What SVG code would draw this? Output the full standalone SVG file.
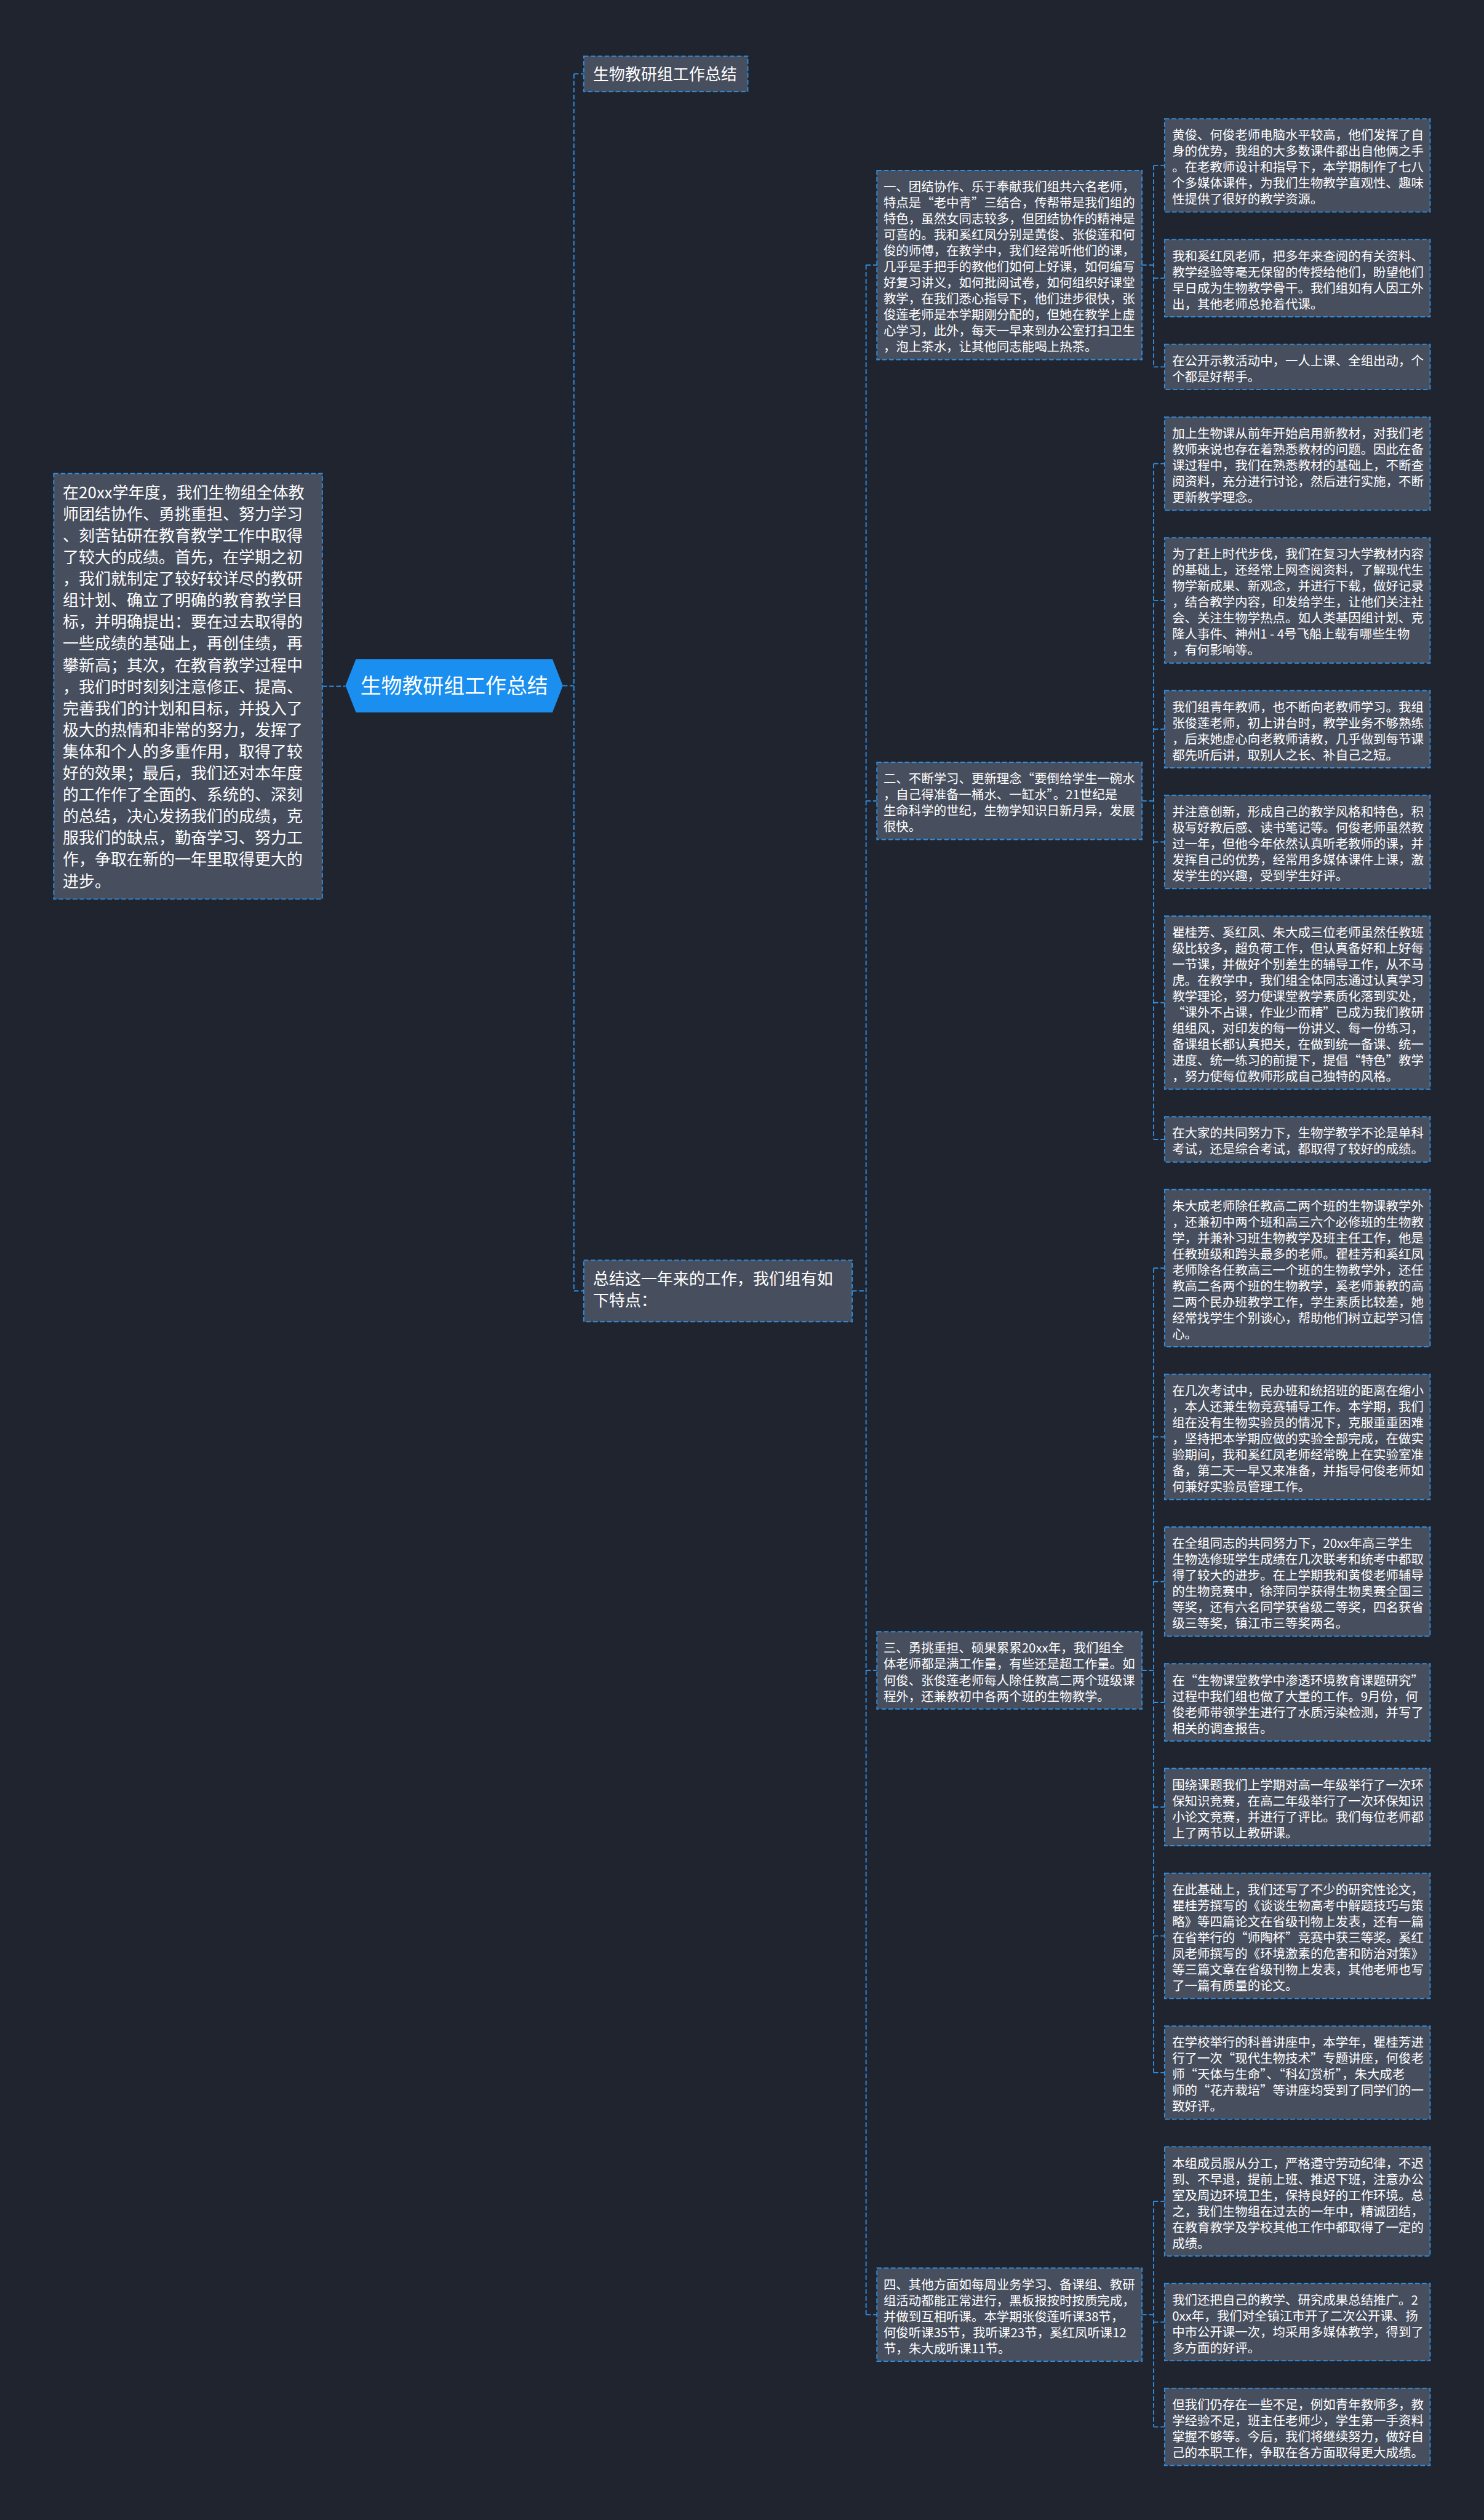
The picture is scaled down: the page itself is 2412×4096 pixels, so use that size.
<svg xmlns="http://www.w3.org/2000/svg" width="2412" height="4096" viewBox="0 0 2412 4096">
<style>
.nd rect{fill:#474e5e;stroke:#2f8ee0;stroke-width:2;stroke-dasharray:8 4}
.t{font-family:"Noto Sans CJK SC","Noto Sans",sans-serif;fill:#ffffff}
.s{font-size:21.7px}
.l{font-size:27.6px}
.c{font-size:36px}
#connectors path{stroke:#2f8ee0;stroke-width:2;stroke-dasharray:8 4;fill:none}
</style>
<rect x="0" y="0" width="2412" height="4096" fill="#20242f"/>
<g transform="scale(0.9422)">
<g id="connectors">
<path d="M556,1184H596"/>
<path d="M971,1183H990M990,127.5V2227M990,127.5H1007M990,2227H1007"/>
<path d="M1470,2227H1494M1494,457.2V3993M1494,457.2H1512.7M1494,1381.6H1512.7M1494,2881.6H1512.7M1494,3993H1512.7"/>
<path d="M1970,457.2H1990M1990,285.4V633M1990,285.4H2009M1990,479.9H2009M1990,633H2009"/>
<path d="M1970,1381.6H1990M1990,799.9V1965.6M1990,799.9H2009M1990,1035.8H2009M1990,1257.9H2009M1990,1452.4H2009M1990,1729.7H2009M1990,1965.6H2009"/>
<path d="M1970,2881.6H1990M1990,2187.7V3575.5M1990,2187.7H2009M1990,2478.8H2009M1990,2728.5H2009M1990,2936.8H2009M1990,3117.5H2009M1990,3339.6H2009M1990,3575.5H2009"/>
<path d="M1970,3993H1990M1990,3797.6V4186.6M1990,3797.6H2009M1990,4005.9H2009M1990,4186.6H2009"/>
</g>

<g id="n-left" class="nd"><rect x="92.7" y="817" width="463.3" height="734"/>
<text class="t l" x="108.3" y="859.5"><tspan x="108.3" dy="0">在20xx学年度，我们生物组全体教</tspan><tspan x="108.3" dy="37.25">师团结协作、勇挑重担、努力学习</tspan><tspan x="108.3" dy="37.25">、刻苦钻研在教育教学工作中取得</tspan><tspan x="108.3" dy="37.25">了较大的成绩。首先，在学期之初</tspan><tspan x="108.3" dy="37.25">，我们就制定了较好较详尽的教研</tspan><tspan x="108.3" dy="37.25">组计划、确立了明确的教育教学目</tspan><tspan x="108.3" dy="37.25">标，并明确提出：要在过去取得的</tspan><tspan x="108.3" dy="37.25">一些成绩的基础上，再创佳绩，再</tspan><tspan x="108.3" dy="37.25">攀新高；其次，在教育教学过程中</tspan><tspan x="108.3" dy="37.25">，我们时时刻刻注意修正、提高、</tspan><tspan x="108.3" dy="37.25">完善我们的计划和目标，并投入了</tspan><tspan x="108.3" dy="37.25">极大的热情和非常的努力，发挥了</tspan><tspan x="108.3" dy="37.25">集体和个人的多重作用，取得了较</tspan><tspan x="108.3" dy="37.25">好的效果；最后，我们还对本年度</tspan><tspan x="108.3" dy="37.25">的工作作了全面的、系统的、深刻</tspan><tspan x="108.3" dy="37.25">的总结，决心发扬我们的成绩，克</tspan><tspan x="108.3" dy="37.25">服我们的缺点，勤奋学习、努力工</tspan><tspan x="108.3" dy="37.25">作，争取在新的一年里取得更大的</tspan><tspan x="108.3" dy="37.25">进步。</tspan></text></g>

<g id="n-root"><polygon points="596,1183 614,1137 953,1137 971,1183 953,1229 614,1229" fill="#1a8ff0"/>
<text class="t c" x="783.5" y="1196" text-anchor="middle">生物教研组工作总结</text></g>

<g id="n-top" class="nd"><rect x="1007" y="97" width="283" height="61"/>
<text class="t l" x="1023" y="138">生物教研组工作总结</text></g>

<g id="n-sum" class="nd"><rect x="1007" y="2174" width="463" height="106"/>
<text class="t l" x="1023" y="2216.5"><tspan x="1023" dy="0">总结这一年来的工作，我们组有如</tspan><tspan x="1023" dy="37.25">下特点：</tspan></text></g>

<g id="b1" class="nd"><rect x="1512.7" y="294" width="457.3" height="326.4"/>
<text class="t s" x="1524" y="330.3"><tspan x="1524" dy="0">一、团结协作、乐于奉献我们组共六名老师，</tspan><tspan x="1524" dy="27.6">特点是“老中青”三结合，传帮带是我们组的</tspan><tspan x="1524" dy="27.6">特色，虽然女同志较多，但团结协作的精神是</tspan><tspan x="1524" dy="27.6">可喜的。我和奚红凤分别是黄俊、张俊莲和何</tspan><tspan x="1524" dy="27.6">俊的师傅，在教学中，我们经常听他们的课，</tspan><tspan x="1524" dy="27.6">几乎是手把手的教他们如何上好课，如何编写</tspan><tspan x="1524" dy="27.6">好复习讲义，如何批阅试卷，如何组织好课堂</tspan><tspan x="1524" dy="27.6">教学，在我们悉心指导下，他们进步很快，张</tspan><tspan x="1524" dy="27.6">俊莲老师是本学期刚分配的，但她在教学上虚</tspan><tspan x="1524" dy="27.6">心学习，此外，每天一早来到办公室打扫卫生</tspan><tspan x="1524" dy="27.6">，泡上茶水，让其他同志能喝上热茶。</tspan></text></g>

<g id="b2" class="nd"><rect x="1512.7" y="1315" width="457.3" height="133.2"/>
<text class="t s" x="1524" y="1351.3"><tspan x="1524" dy="0">二、不断学习、更新理念“要倒给学生一碗水</tspan><tspan x="1524" dy="27.6">，自己得准备一桶水、一缸水”。21世纪是</tspan><tspan x="1524" dy="27.6">生命科学的世纪，生物学知识日新月异，发展</tspan><tspan x="1524" dy="27.6">很快。</tspan></text></g>

<g id="b3" class="nd"><rect x="1512.7" y="2815" width="457.3" height="133.2"/>
<text class="t s" x="1524" y="2851.3"><tspan x="1524" dy="0">三、勇挑重担、硕果累累20xx年，我们组全</tspan><tspan x="1524" dy="27.6">体老师都是满工作量，有些还是超工作量。如</tspan><tspan x="1524" dy="27.6">何俊、张俊莲老师每人除任教高二两个班级课</tspan><tspan x="1524" dy="27.6">程外，还兼教初中各两个班的生物教学。</tspan></text></g>

<g id="b4" class="nd"><rect x="1512.7" y="3912.7" width="457.3" height="160.8"/>
<text class="t s" x="1524" y="3949"><tspan x="1524" dy="0">四、其他方面如每周业务学习、备课组、教研</tspan><tspan x="1524" dy="27.6">组活动都能正常进行，黑板报按时按质完成，</tspan><tspan x="1524" dy="27.6">并做到互相听课。本学期张俊莲听课38节，</tspan><tspan x="1524" dy="27.6">何俊听课35节，我听课23节，奚红凤听课12</tspan><tspan x="1524" dy="27.6">节，朱大成听课11节。</tspan></text></g>

<g id="l1" class="nd"><rect x="2009" y="205" width="458" height="160.8"/>
<text class="t s" x="2022" y="241.3"><tspan x="2022" dy="0">黄俊、何俊老师电脑水平较高，他们发挥了自</tspan><tspan x="2022" dy="27.6">身的优势，我组的大多数课件都出自他俩之手</tspan><tspan x="2022" dy="27.6">。在老教师设计和指导下，本学期制作了七八</tspan><tspan x="2022" dy="27.6">个多媒体课件，为我们生物教学直观性、趣味</tspan><tspan x="2022" dy="27.6">性提供了很好的教学资源。</tspan></text></g>

<g id="l2" class="nd"><rect x="2009" y="413.3" width="458" height="133.2"/>
<text class="t s" x="2022" y="449.6"><tspan x="2022" dy="0">我和奚红凤老师，把多年来查阅的有关资料、</tspan><tspan x="2022" dy="27.6">教学经验等毫无保留的传授给他们，盼望他们</tspan><tspan x="2022" dy="27.6">早日成为生物教学骨干。我们组如有人因工外</tspan><tspan x="2022" dy="27.6">出，其他老师总抢着代课。</tspan></text></g>

<g id="l3" class="nd"><rect x="2009" y="594" width="458" height="78"/>
<text class="t s" x="2022" y="630.3"><tspan x="2022" dy="0">在公开示教活动中，一人上课、全组出动，个</tspan><tspan x="2022" dy="27.6">个都是好帮手。</tspan></text></g>

<g id="l4" class="nd"><rect x="2009" y="719.5" width="458" height="160.8"/>
<text class="t s" x="2022" y="755.8"><tspan x="2022" dy="0">加上生物课从前年开始启用新教材，对我们老</tspan><tspan x="2022" dy="27.6">教师来说也存在着熟悉教材的问题。因此在备</tspan><tspan x="2022" dy="27.6">课过程中，我们在熟悉教材的基础上，不断查</tspan><tspan x="2022" dy="27.6">阅资料，充分进行讨论，然后进行实施，不断</tspan><tspan x="2022" dy="27.6">更新教学理念。</tspan></text></g>

<g id="l5" class="nd"><rect x="2009" y="927.8" width="458" height="216"/>
<text class="t s" x="2022" y="964.1"><tspan x="2022" dy="0">为了赶上时代步伐，我们在复习大学教材内容</tspan><tspan x="2022" dy="27.6">的基础上，还经常上网查阅资料，了解现代生</tspan><tspan x="2022" dy="27.6">物学新成果、新观念，并进行下载，做好记录</tspan><tspan x="2022" dy="27.6">，结合教学内容，印发给学生，让他们关注社</tspan><tspan x="2022" dy="27.6">会、关注生物学热点。如人类基因组计划、克</tspan><tspan x="2022" dy="27.6">隆人事件、神州1 - 4号飞船上载有哪些生物</tspan><tspan x="2022" dy="27.6">，有何影响等。</tspan></text></g>

<g id="l6" class="nd"><rect x="2009" y="1191.3" width="458" height="133.2"/>
<text class="t s" x="2022" y="1227.6"><tspan x="2022" dy="0">我们组青年教师，也不断向老教师学习。我组</tspan><tspan x="2022" dy="27.6">张俊莲老师，初上讲台时，教学业务不够熟练</tspan><tspan x="2022" dy="27.6">，后来她虚心向老教师请教，几乎做到每节课</tspan><tspan x="2022" dy="27.6">都先听后讲，取别人之长、补自己之短。</tspan></text></g>

<g id="l7" class="nd"><rect x="2009" y="1372" width="458" height="160.8"/>
<text class="t s" x="2022" y="1408.3"><tspan x="2022" dy="0">并注意创新，形成自己的教学风格和特色，积</tspan><tspan x="2022" dy="27.6">极写好教后感、读书笔记等。何俊老师虽然教</tspan><tspan x="2022" dy="27.6">过一年，但他今年依然认真听老教师的课，并</tspan><tspan x="2022" dy="27.6">发挥自己的优势，经常用多媒体课件上课，激</tspan><tspan x="2022" dy="27.6">发学生的兴趣，受到学生好评。</tspan></text></g>

<g id="l8" class="nd"><rect x="2009" y="1580.3" width="458" height="298.8"/>
<text class="t s" x="2022" y="1616.6"><tspan x="2022" dy="0">瞿桂芳、奚红凤、朱大成三位老师虽然任教班</tspan><tspan x="2022" dy="27.6">级比较多，超负荷工作，但认真备好和上好每</tspan><tspan x="2022" dy="27.6">一节课，并做好个别差生的辅导工作，从不马</tspan><tspan x="2022" dy="27.6">虎。在教学中，我们组全体同志通过认真学习</tspan><tspan x="2022" dy="27.6">教学理论，努力使课堂教学素质化落到实处，</tspan><tspan x="2022" dy="27.6">“课外不占课，作业少而精”已成为我们教研</tspan><tspan x="2022" dy="27.6">组组风，对印发的每一份讲义、每一份练习，</tspan><tspan x="2022" dy="27.6">备课组长都认真把关，在做到统一备课、统一</tspan><tspan x="2022" dy="27.6">进度、统一练习的前提下，提倡“特色”教学</tspan><tspan x="2022" dy="27.6">，努力使每位教师形成自己独特的风格。</tspan></text></g>

<g id="l9" class="nd"><rect x="2009" y="1926.6" width="458" height="78"/>
<text class="t s" x="2022" y="1962.9"><tspan x="2022" dy="0">在大家的共同努力下，生物学教学不论是单科</tspan><tspan x="2022" dy="27.6">考试，还是综合考试，都取得了较好的成绩。</tspan></text></g>

<g id="l10" class="nd"><rect x="2009" y="2052.1" width="458" height="271.2"/>
<text class="t s" x="2022" y="2088.4"><tspan x="2022" dy="0">朱大成老师除任教高二两个班的生物课教学外</tspan><tspan x="2022" dy="27.6">，还兼初中两个班和高三六个必修班的生物教</tspan><tspan x="2022" dy="27.6">学，并兼补习班生物教学及班主任工作，他是</tspan><tspan x="2022" dy="27.6">任教班级和跨头最多的老师。瞿桂芳和奚红凤</tspan><tspan x="2022" dy="27.6">老师除各任教高三一个班的生物教学外，还任</tspan><tspan x="2022" dy="27.6">教高二各两个班的生物教学，奚老师兼教的高</tspan><tspan x="2022" dy="27.6">二两个民办班教学工作，学生素质比较差，她</tspan><tspan x="2022" dy="27.6">经常找学生个别谈心，帮助他们树立起学习信</tspan><tspan x="2022" dy="27.6">心。</tspan></text></g>

<g id="l11" class="nd"><rect x="2009" y="2370.8" width="458" height="216"/>
<text class="t s" x="2022" y="2407.1"><tspan x="2022" dy="0">在几次考试中，民办班和统招班的距离在缩小</tspan><tspan x="2022" dy="27.6">，本人还兼生物竞赛辅导工作。本学期，我们</tspan><tspan x="2022" dy="27.6">组在没有生物实验员的情况下，克服重重困难</tspan><tspan x="2022" dy="27.6">，坚持把本学期应做的实验全部完成，在做实</tspan><tspan x="2022" dy="27.6">验期间，我和奚红凤老师经常晚上在实验室准</tspan><tspan x="2022" dy="27.6">备，第二天一早又来准备，并指导何俊老师如</tspan><tspan x="2022" dy="27.6">何兼好实验员管理工作。</tspan></text></g>

<g id="l12" class="nd"><rect x="2009" y="2634.3" width="458" height="188.4"/>
<text class="t s" x="2022" y="2670.6"><tspan x="2022" dy="0">在全组同志的共同努力下，20xx年高三学生</tspan><tspan x="2022" dy="27.6">生物选修班学生成绩在几次联考和统考中都取</tspan><tspan x="2022" dy="27.6">得了较大的进步。在上学期我和黄俊老师辅导</tspan><tspan x="2022" dy="27.6">的生物竞赛中，徐萍同学获得生物奥赛全国三</tspan><tspan x="2022" dy="27.6">等奖，还有六名同学获省级二等奖，四名获省</tspan><tspan x="2022" dy="27.6">级三等奖，镇江市三等奖两名。</tspan></text></g>

<g id="l13" class="nd"><rect x="2009" y="2870.2" width="458" height="133.2"/>
<text class="t s" x="2022" y="2906.5"><tspan x="2022" dy="0">在“生物课堂教学中渗透环境教育课题研究”</tspan><tspan x="2022" dy="27.6">过程中我们组也做了大量的工作。9月份，何</tspan><tspan x="2022" dy="27.6">俊老师带领学生进行了水质污染检测，并写了</tspan><tspan x="2022" dy="27.6">相关的调查报告。</tspan></text></g>

<g id="l14" class="nd"><rect x="2009" y="3050.9" width="458" height="133.2"/>
<text class="t s" x="2022" y="3087.2"><tspan x="2022" dy="0">围绕课题我们上学期对高一年级举行了一次环</tspan><tspan x="2022" dy="27.6">保知识竞赛，在高二年级举行了一次环保知识</tspan><tspan x="2022" dy="27.6">小论文竞赛，并进行了评比。我们每位老师都</tspan><tspan x="2022" dy="27.6">上了两节以上教研课。</tspan></text></g>

<g id="l15" class="nd"><rect x="2009" y="3231.6" width="458" height="216"/>
<text class="t s" x="2022" y="3267.9"><tspan x="2022" dy="0">在此基础上，我们还写了不少的研究性论文，</tspan><tspan x="2022" dy="27.6">瞿桂芳撰写的《谈谈生物高考中解题技巧与策</tspan><tspan x="2022" dy="27.6">略》等四篇论文在省级刊物上发表，还有一篇</tspan><tspan x="2022" dy="27.6">在省举行的“师陶杯”竞赛中获三等奖。奚红</tspan><tspan x="2022" dy="27.6">凤老师撰写的《环境激素的危害和防治对策》</tspan><tspan x="2022" dy="27.6">等三篇文章在省级刊物上发表，其他老师也写</tspan><tspan x="2022" dy="27.6">了一篇有质量的论文。</tspan></text></g>

<g id="l16" class="nd"><rect x="2009" y="3495.1" width="458" height="160.8"/>
<text class="t s" x="2022" y="3531.4"><tspan x="2022" dy="0">在学校举行的科普讲座中，本学年，瞿桂芳进</tspan><tspan x="2022" dy="27.6">行了一次“现代生物技术”专题讲座，何俊老</tspan><tspan x="2022" dy="27.6">师“天体与生命”、“科幻赏析”，朱大成老</tspan><tspan x="2022" dy="27.6">师的“花卉栽培”等讲座均受到了同学们的一</tspan><tspan x="2022" dy="27.6">致好评。</tspan></text></g>

<g id="l17" class="nd"><rect x="2009" y="3703.4" width="458" height="188.4"/>
<text class="t s" x="2022" y="3739.7"><tspan x="2022" dy="0">本组成员服从分工，严格遵守劳动纪律，不迟</tspan><tspan x="2022" dy="27.6">到、不早退，提前上班、推迟下班，注意办公</tspan><tspan x="2022" dy="27.6">室及周边环境卫生，保持良好的工作环境。总</tspan><tspan x="2022" dy="27.6">之，我们生物组在过去的一年中，精诚团结，</tspan><tspan x="2022" dy="27.6">在教育教学及学校其他工作中都取得了一定的</tspan><tspan x="2022" dy="27.6">成绩。</tspan></text></g>

<g id="l18" class="nd"><rect x="2009" y="3939.3" width="458" height="133.2"/>
<text class="t s" x="2022" y="3975.6"><tspan x="2022" dy="0">我们还把自己的教学、研究成果总结推广。2</tspan><tspan x="2022" dy="27.6">0xx年，我们对全镇江市开了二次公开课、扬</tspan><tspan x="2022" dy="27.6">中市公开课一次，均采用多媒体教学，得到了</tspan><tspan x="2022" dy="27.6">多方面的好评。</tspan></text></g>

<g id="l19" class="nd"><rect x="2009" y="4120" width="458" height="133.2"/>
<text class="t s" x="2022" y="4156.3"><tspan x="2022" dy="0">但我们仍存在一些不足，例如青年教师多，教</tspan><tspan x="2022" dy="27.6">学经验不足，班主任老师少，学生第一手资料</tspan><tspan x="2022" dy="27.6">掌握不够等。今后，我们将继续努力，做好自</tspan><tspan x="2022" dy="27.6">己的本职工作，争取在各方面取得更大成绩。</tspan></text></g>
</g>
</svg>
